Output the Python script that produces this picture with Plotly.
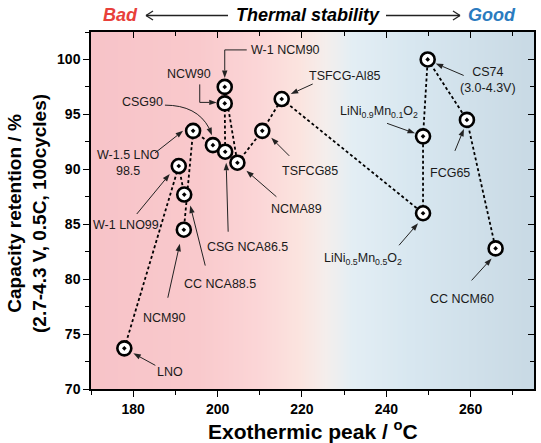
import math
import plotly.graph_objects as go
import numpy as np

# ---------------- data ----------------
names = ["LNO", "W-1 LNO99", "W-1.5 LNO98.5", "NCM90", "CC NCA88.5", "CSG90",
         "CSG NCA86.5", "NCW90", "W-1 NCM90", "NCMA89", "TSFCG85", "TSFCG-Al85",
         "LiNi0.5Mn0.5O2", "LiNi0.9Mn0.1O2", "CS74", "FCG65", "CC NCM60"]
exo_peak = [177.9, 190.8, 194.2, 192.0, 192.1, 198.9, 201.8, 201.7, 201.7, 204.7,
            210.6, 215.2, 248.7, 248.7, 249.8, 259.1, 265.9]
retention = [73.7, 90.3, 93.5, 84.5, 87.7, 92.2, 91.6, 96.0, 97.5, 90.6,
             93.5, 96.4, 86.0, 93.0, 100.0, 94.5, 82.8]

links = [("LNO", "W-1 LNO99"), ("W-1 LNO99", "CC NCA88.5"), ("W-1.5 LNO98.5", "NCM90"),
         ("W-1.5 LNO98.5", "CSG90"), ("CSG90", "CSG NCA86.5"), ("NCW90", "CSG NCA86.5"),
         ("W-1 NCM90", "NCMA89"), ("NCMA89", "TSFCG85"), ("TSFCG85", "TSFCG-Al85"),
         ("TSFCG-Al85", "LiNi0.5Mn0.5O2"), ("LiNi0.5Mn0.5O2", "LiNi0.9Mn0.1O2"),
         ("LiNi0.9Mn0.1O2", "CS74"), ("CS74", "FCG65"), ("FCG65", "CC NCM60")]

x_ticks = [180, 200, 220, 240, 260]
y_ticks = [70, 75, 80, 85, 90, 95, 100]

# label text and text-centre offset from its point (pixels, y down)
labels = {
    "LNO": ("LNO", (46, 24)),
    "NCM90": ("NCM90", (-20, 88)),
    "CC NCA88.5": ("CC NCA88.5", (36, 89)),
    "CSG NCA86.5": ("CSG NCA86.5", (22, 95)),
    "NCMA89": ("NCMA89", (59, 46)),
    "CSG90": ("CSG90", (-70, -43)),
    "W-1.5 LNO98.5": ("W-1.5 LNO<br>98.5", (-65, 32)),
    "W-1 LNO99": ("W-1 LNO99", (-53, 59)),
    "NCW90": ("NCW90", (-36, -29)),
    "W-1 NCM90": ("W-1 NCM90", (61, -37)),
    "TSFCG-Al85": ("TSFCG-Al85", (63, -23)),
    "TSFCG85": ("TSFCG85", (48, 40)),
    "CS74": ("CS74<br>(3.0-4.3V)", (60, 21)),
    "LiNi0.9Mn0.1O2": ("LiNi<sub>0.9</sub>Mn<sub>0.1</sub>O<sub>2</sub>", (-44, -24)),
    "FCG65": ("FCG65", (-17, 53)),
    "LiNi0.5Mn0.5O2": ("LiNi<sub>0.5</sub>Mn<sub>0.5</sub>O<sub>2</sub>", (-60, 46)),
    "CC NCM60": ("CC NCM60", (-34, 51)),
}

# pointer polylines: offsets from the point (pixels, y down); last entry is the tip
pointers = {
    "LNO": [(31, 17), (9, 5)],
    "NCM90": [(-16, 68), (-4, 14)],
    "CC NCA88.5": [(21, 71), (6, 11)],
    "CSG NCA86.5": [(3, 80), (1, 11)],
    "NCMA89": [(39, 34), (9, 8)],
    "W-1.5 LNO98.5": [(-38, 22), (-10, 0)],
    "W-1 LNO99": [(-42, 48), (-9, 8)],
    "NCW90": [(-25, -19), (-25, -1), (-8, -1)],
    "W-1 NCM90": [(22, -37), (0, -37), (0, -9)],
    "TSFCG-Al85": [(31, -15), (9, -5)],
    "TSFCG85": [(27, 25), (9, 7)],
    "CS74": [(36, 16), (8, 4)],
    "LiNi0.9Mn0.1O2": [(-36, -13), (-8, -3)],
    "FCG65": [(-12, 31), (-3, 9)],
    "LiNi0.5Mn0.5O2": [(-24, 32), (-5, 10)],
    "CC NCM60": [(-24, 32), (-4, 10)],
}

pt = {n: (x, y) for n, x, y in zip(names, exo_peak, retention)}

X_RANGE = [170, 275]
Y_RANGE = [70, 102.5]
ML, MR, MT, MB = 91, 7, 32, 54
W, H = 541, 443
PW, PH = W - ML - MR, H - MT - MB


def pxx(px):
    return (px - ML) / PW


def pxy(py):
    return (MT + PH - py) / PH


FONT = "Liberation Sans, Arial, sans-serif"
INK = "#222"
fig = go.Figure()

# background gradient
bg_x = np.linspace(X_RANGE[0], X_RANGE[1], 211)
cs = [[0.0, "#f7c3c8"], [0.24, "#f9c9cc"], [0.38, "#fbd6d7"], [0.47, "#fbe4df"],
      [0.53, "#f4eeec"], [0.59, "#e3eef4"], [0.72, "#d8e7f0"], [1.0, "#c8d9e4"]]
fig.add_trace(go.Heatmap(x=bg_x, y=Y_RANGE, z=[bg_x, bg_x], colorscale=cs,
                         showscale=False, zsmooth="best", hoverinfo="skip"))

# dashed links
lx, ly = [], []
for a, b in links:
    lx += [pt[a][0], pt[b][0], None]
    ly += [pt[a][1], pt[b][1], None]
fig.add_trace(go.Scatter(x=lx, y=ly, mode="lines",
                         line=dict(color="black", width=1.8, dash="3px,2.5px"),
                         hoverinfo="skip", showlegend=False))

# points
fig.add_trace(go.Scatter(x=exo_peak, y=retention, mode="markers",
                         marker=dict(symbol="circle-dot", size=14, color="white",
                                     line=dict(color="black", width=2.6)),
                         text=names, showlegend=False))

# dummy trace for mirrored axes
fig.add_trace(go.Scatter(x=[X_RANGE[0]], y=[Y_RANGE[0]], xaxis="x2", yaxis="y2",
                         mode="markers", marker=dict(opacity=0), showlegend=False,
                         hoverinfo="skip"))

annotations = []
shapes = []
lab_font = dict(family=FONT, size=12.5, color="#1a1a1a")


def pix_shape(key, path, fill=None):
    x, y = pt[key]
    s = dict(type="path", xref="x", yref="y", xsizemode="pixel", ysizemode="pixel",
             xanchor=x, yanchor=y, path=path, layer="above")
    if fill:
        s.update(fillcolor=fill, line=dict(width=0))
    else:
        s.update(line=dict(color=INK, width=1))
    shapes.append(s)


def head(key, tail, tip, length=7.5, half=2.7):
    dx, dy = tip[0] - tail[0], tip[1] - tail[1]
    L = math.hypot(dx, dy)
    ux, uy = dx / L, dy / L
    bx, by = tip[0] - ux * length, tip[1] - uy * length
    px_, py_ = -uy * half, ux * half
    p = "M {:.2f},{:.2f} L {:.2f},{:.2f} L {:.2f},{:.2f} Z".format(
        tip[0], -tip[1], bx + px_, -(by + py_), bx - px_, -(by - py_))
    pix_shape(key, p, fill=INK)
    return bx, by


for key, (txt, toff) in labels.items():
    x, y = pt[key]
    annotations.append(dict(x=x, y=y, xref="x", yref="y", text=txt, showarrow=False,
                            xshift=toff[0], yshift=-toff[1], font=lab_font,
                            xanchor="center", yanchor="middle"))

for key, pts in pointers.items():
    bx, by = head(key, pts[-2], pts[-1])
    poly = pts[:-1] + [(bx, by)]
    path = "M " + " L ".join("{:.2f},{:.2f}".format(a, -b) for a, b in poly)
    pix_shape(key, path)

# curved pointer of CSG90
bx, by = head("CSG90", (-5, -20), (-1, -10))
pix_shape("CSG90", "M -48,40 Q -16,40 {:.2f},{:.2f}".format(bx, -by))

# header
hy = pxy(15.5)
hfont = dict(family=FONT, size=18, weight="bold", style="italic")
annotations += [
    dict(xref="paper", yref="paper", x=pxx(120), y=hy, text="Bad", showarrow=False,
         font=dict(hfont, color="#e8403a"), xanchor="center", yanchor="middle"),
    dict(xref="paper", yref="paper", x=pxx(308), y=hy, text="Thermal stability",
         showarrow=False, font=dict(hfont, color="black"), xanchor="center", yanchor="middle"),
    dict(xref="paper", yref="paper", x=pxx(492), y=hy, text="Good", showarrow=False,
         font=dict(hfont, color="#2b7bbf"), xanchor="center", yanchor="middle"),
]
for x0, x1, tipx, sgn in [(146, 228, 146, 1), (386, 460, 460, -1)]:
    shapes.append(dict(type="line", xref="paper", yref="paper", x0=pxx(x0), x1=pxx(x1),
                       y0=hy, y1=hy, line=dict(color=INK, width=1.3)))
    for dy in (4.5, -4.5):
        shapes.append(dict(type="line", xref="paper", yref="paper", x0=pxx(tipx),
                           x1=pxx(tipx + sgn * 7), y0=hy, y1=pxy(15.5 + dy),
                           line=dict(color=INK, width=1.3)))

# axis titles
annotations.append(dict(xref="paper", yref="paper", x=0.5, y=pxy(430),
                        text="Exothermic peak / <sup>o</sup>C", showarrow=False,
                        font=dict(family=FONT, size=21, weight="bold", color="black"),
                        xanchor="center", yanchor="middle"))
annotations.append(dict(xref="paper", yref="paper", x=pxx(27), y=pxy(214),
                        text="Capacity retention / %<br>(2.7-4.3 V, 0.5C, 100cycles)",
                        showarrow=False, textangle=-90,
                        font=dict(family=FONT, size=19, weight="bold", color="black"),
                        xanchor="center", yanchor="middle"))

tickfont = dict(family=FONT, size=14, weight="bold", color="black")
fig.update_layout(
    width=W, height=H, margin=dict(l=ML, r=MR, t=MT, b=MB),
    paper_bgcolor="white", plot_bgcolor="white", showlegend=False,
    xaxis=dict(range=X_RANGE, tickvals=x_ticks, ticks="outside", ticklen=6, tickwidth=1.3,
               tickcolor="black", showline=True, linecolor="black", linewidth=1.5,
               showgrid=False, zeroline=False, tickfont=tickfont,
               minor=dict(dtick=10, tick0=170, ticks="outside", ticklen=4, tickwidth=1.3,
                          tickcolor="black", showgrid=False)),
    yaxis=dict(range=Y_RANGE, tickvals=y_ticks, ticks="outside", ticklen=6, tickwidth=1.3,
               tickcolor="black", showline=True, linecolor="black", linewidth=1.5,
               showgrid=False, zeroline=False, tickfont=tickfont,
               minor=dict(dtick=2.5, tick0=70, ticks="outside", ticklen=4, tickwidth=1.3,
                          tickcolor="black", showgrid=False)),
    xaxis2=dict(range=X_RANGE, overlaying="x", side="top", tickvals=x_ticks, ticks="inside",
                ticklen=6, tickwidth=1.3, tickcolor="black", showticklabels=False,
                showline=True, linecolor="black", linewidth=1.5, showgrid=False,
                zeroline=False,
                minor=dict(dtick=10, tick0=170, ticks="inside", ticklen=4, tickwidth=1.3,
                           tickcolor="black", showgrid=False)),
    yaxis2=dict(range=Y_RANGE, overlaying="y", side="right", tickvals=y_ticks, ticks="inside",
                ticklen=6, tickwidth=1.3, tickcolor="black", showticklabels=False,
                showline=True, linecolor="black", linewidth=1.5, showgrid=False,
                zeroline=False,
                minor=dict(dtick=2.5, tick0=70, ticks="inside", ticklen=4, tickwidth=1.3,
                           tickcolor="black", showgrid=False)),
    annotations=annotations, shapes=shapes,
)

fig.write_html("out.html")
